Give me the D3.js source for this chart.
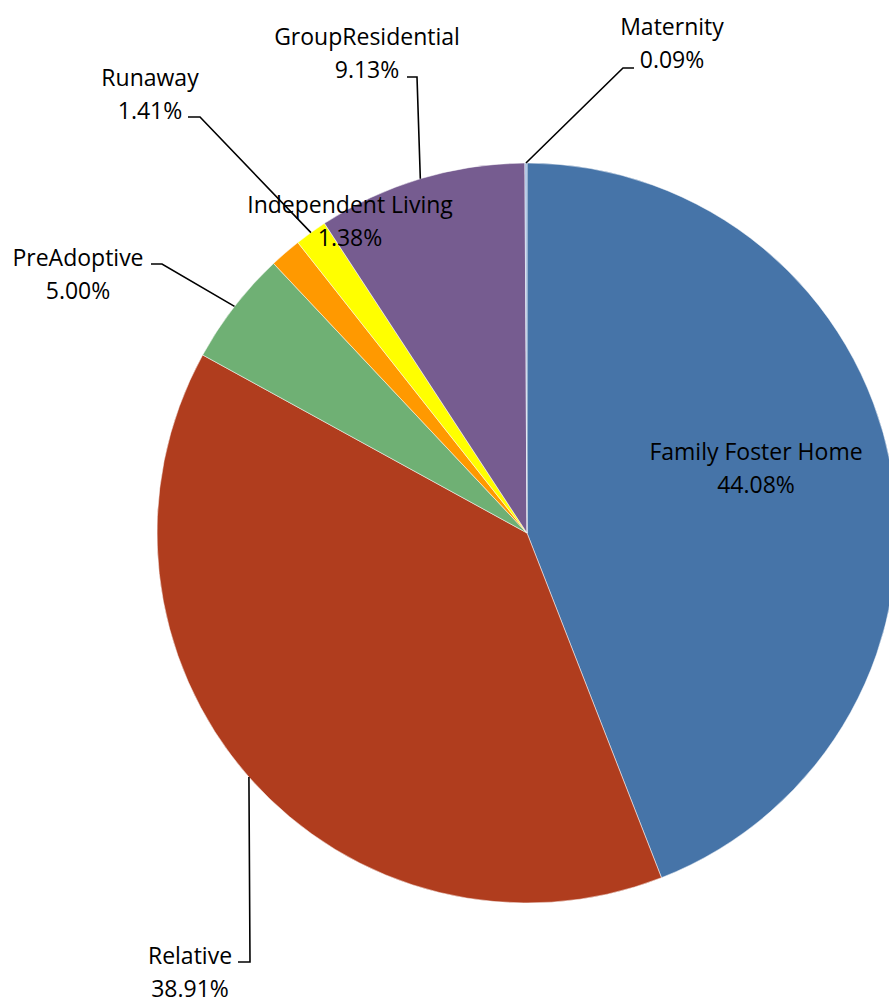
<!DOCTYPE html>
<html>
<head>
<meta charset="utf-8">
<script src="https://d3js.org/d3.v7.min.js"></script>
<style>
  body { margin: 0; background: #fff; }
  text { font-family: "Open Sans", Lato, sans-serif; font-size: 23px; fill: #000; }
</style>
</head>
<body>
<div id="chart"></div>
<script>
// slices, clockwise from 12 o'clock
var categories = ["Family Foster Home", "Relative", "PreAdoptive", "Independent Living", "Runaway", "GroupResidential", "Maternity"];
var percents   = [44.08, 38.91, 5.00, 1.38, 1.41, 9.13, 0.09];
var percentLabels = ["44.08%", "38.91%", "5.00%", "1.38%", "1.41%", "9.13%", "0.09%"];
var colors = ["#4674a8", "#b03d1e", "#6fb074", "#ff9900", "#ffff00", "#765c90", "#9cb8de"];

// label placement (label centre x, first baseline y, leader elbow + end); null = no leader
var labelPos = [
  {x: 756, y: 460, leader: null},
  {x: 190, y: 964, leader: [[250, 962], [238, 962]]},
  {x: 78,  y: 266, leader: [[162, 264], [151, 264]]},
  {x: 350, y: 213, leader: null},
  {x: 150, y: 86,  leader: [[200, 117], [188, 117]]},
  {x: 367, y: 45,  leader: [[417, 77], [407, 77]]},
  {x: 672, y: 35,  leader: [[623, 68], [634, 68]]}
];

var width = 889, height = 1002;
var cx = 527, cy = 533, radius = 370;

var svg = d3.select("#chart").append("svg")
  .attr("width", width)
  .attr("height", height);

var data = categories.map(function(c, i) {
  return {name: c, value: percents[i], label: percentLabels[i], color: colors[i], pos: labelPos[i]};
});

var pie = d3.pie()
  .sort(null)
  .value(function(d) { return d.value; });

var arc = d3.arc()
  .innerRadius(0)
  .outerRadius(radius);

var arcs = pie(data);

var g = svg.append("g")
  .attr("transform", "translate(" + cx + "," + cy + ")");

g.selectAll("path.slice")
  .data(arcs)
  .enter().append("path")
    .attr("class", "slice")
    .attr("d", arc)
    .attr("fill", function(d) { return d.data.color; })
    .attr("stroke", "#ffffff")
    .attr("stroke-width", 0.5);

// leader lines from the slice's outer edge at mid angle
arcs.forEach(function(d) {
  var p = d.data.pos;
  if (!p.leader) return;
  var mid = (d.startAngle + d.endAngle) / 2;
  var ex = cx + radius * Math.sin(mid);
  var ey = cy - radius * Math.cos(mid);
  var pts = [[ex, ey]].concat(p.leader);
  svg.append("path")
    .attr("d", d3.line()(pts))
    .attr("fill", "none")
    .attr("stroke", "#000")
    .attr("stroke-width", 1.6);
});

var labels = svg.selectAll("g.lbl")
  .data(arcs)
  .enter().append("g")
    .attr("class", "lbl");

labels.append("text")
  .attr("x", function(d) { return d.data.pos.x; })
  .attr("y", function(d) { return d.data.pos.y; })
  .attr("text-anchor", "middle")
  .text(function(d) { return d.data.name; });

labels.append("text")
  .attr("x", function(d) { return d.data.pos.x; })
  .attr("y", function(d) { return d.data.pos.y + 33; })
  .attr("text-anchor", "middle")
  .text(function(d) { return d.data.label; });
</script>
</body>
</html>
